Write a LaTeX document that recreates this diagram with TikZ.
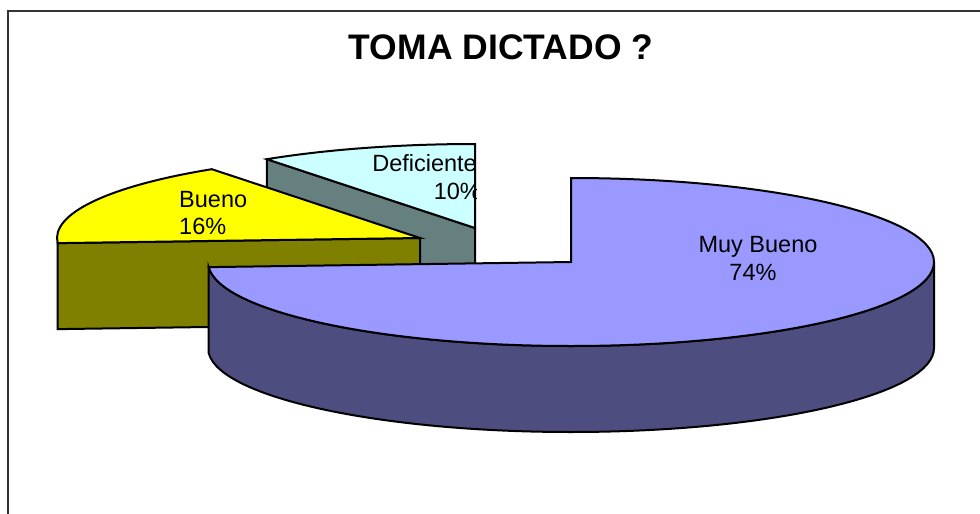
\documentclass[tikz,border=0pt]{standalone}
\usepackage{fontspec}
\setmainfont{Liberation Sans}
\usetikzlibrary{calc}

\definecolor{mbtopc}{RGB}{153,153,255}
\definecolor{mbsidec}{RGB}{77,77,128}
\definecolor{butopc}{RGB}{255,255,0}
\definecolor{busidec}{RGB}{128,128,0}
\definecolor{detopc}{RGB}{204,255,255}
\definecolor{desidec}{RGB}{102,128,128}

\begin{document}
\begin{tikzpicture}%
        [x={(1pt, 0pt)},
        y={(0pt, -1pt)},
        frame/.style={draw=black!80, line width=1.5pt},
        edge/.style={draw=black, line width=2pt},
        mbtop/.style={edge, fill=mbtopc},
        mbside/.style={edge, fill=mbsidec},
        butop/.style={edge, fill=butopc},
        buside/.style={edge, fill=busidec},
        detop/.style={edge, fill=detopc},
        deside/.style={edge, fill=desidec},
        title/.style={inner sep=0pt, font=\bfseries\fontsize{35.5}{42}\selectfont},
        lbl/.style={inner sep=0pt, font=\fontsize{23.5}{28}\selectfont}]

    %% Frame and title
    \useasboundingbox (0,0) rectangle (980,514);
    \draw[frame] (8,514) -- (8,11) -- (980,11);
    \node[title, anchor=base] (title) at (501,59) {TOMA DICTADO ?};
    %%
    %% Slice centres and corners (y points down, so arc angles are mirrored)
    %%
    \coordinate (de) at (475,228);
    \coordinate (bu) at (420,238);
    \coordinate (mb) at (571,262);
    \coordinate (de1) at ($(de)+({363*cos(125)},{-84*sin(125)})$);
    \coordinate (bu1) at ($(bu)+({363*cos(125)},{-84*sin(125)})$);
    \coordinate (bu2) at ($(bu)+({363*cos(183.5)},{-84*sin(183.5)})$);
    \coordinate (mb1) at ($(mb)+(0,-84)$);
    \coordinate (mb2) at ($(mb)+({363*cos(183.5)},{-84*sin(183.5)})$);
    \coordinate (mb3) at ($(mb)+(363,0)$);
    %%
    %% Deficiente
    %%
    \draw[deside] (de1) -- (de) -- ++(0,86) -- ($(de1)+(0,86)$) -- cycle;
    \draw[detop] (de) -- (de1) arc[start angle=-125, end angle=-90, x radius=363, y radius=84] -- cycle;
    \begin{scope}
      \clip (0,0) rectangle (476,514);
      \node[lbl, anchor=base east] (dename) at (477,171) {Deficiente};
      \node[lbl, anchor=base east] (depct) at (481,199) {10\%};
    \end{scope}
    %%
    %% Bueno
    %%
    \draw[buside] (bu) -- (bu2) -- ++(0,86) -- ($(bu)+(0,86)$) -- cycle;
    \draw[butop] (bu) -- (bu1) arc[start angle=-125, end angle=-183.5, x radius=363, y radius=84] -- cycle;
    \node[lbl, anchor=base west] (buname) at (179,207) {Bueno};
    \node[lbl, anchor=base west] (bupct) at (179,234) {16\%};
    %%
    %% Muy Bueno
    %%
    \draw[mbside] (mb2) -- ++(0,86) arc[start angle=176.5, end angle=0, x radius=363, y radius=84]
        -- (mb3) arc[start angle=0, end angle=176.5, x radius=363, y radius=84] -- cycle;
    \draw[mbtop] (mb) -- (mb1) arc[start angle=-90, end angle=176.5, x radius=363, y radius=84] -- cycle;
    \node[lbl, anchor=base] (mbname) at (758,252) {Muy Bueno};
    \node[lbl, anchor=base] (mbpct) at (753,280) {74\%};
    %%
    %%
\end{tikzpicture}
\end{document}
